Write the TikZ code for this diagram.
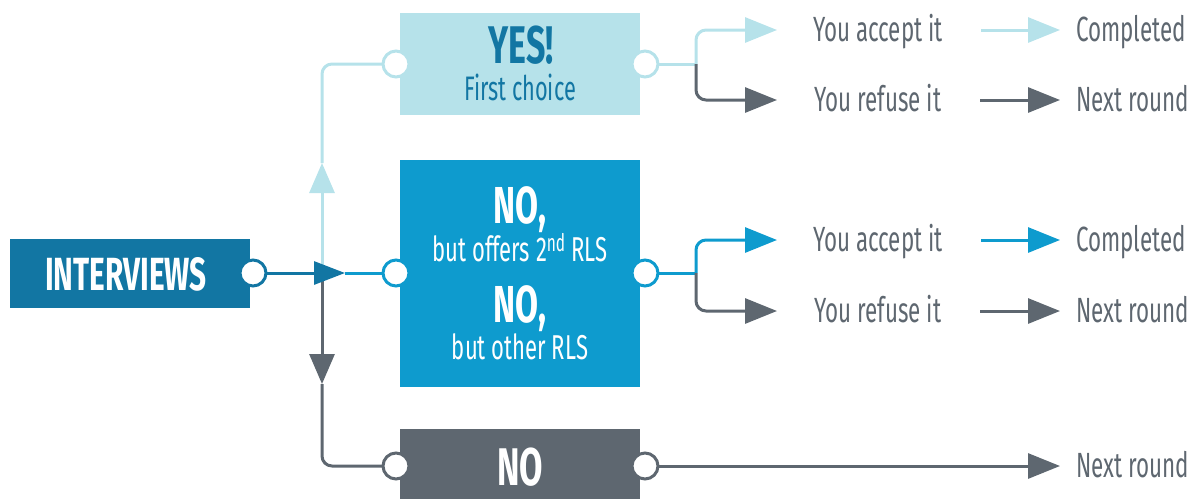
\documentclass[tikz,border=0pt]{standalone}
\usepackage{fontspec}
\setmainfont{Fira Sans}[FakeStretch=0.64]
\usetikzlibrary{arrows.meta}
\definecolor{cDark}{HTML}{1276A3}
\definecolor{cLight}{HTML}{B6E2EA}
\definecolor{cMid}{HTML}{0E9BCE}
\definecolor{cGrey}{HTML}{5E6770}
\newcommand\fBold[1]{\fontsize{#1}{#1}\selectfont\bfseries}
\newcommand\fReg[1]{\fontsize{#1}{#1}\selectfont}
\begin{document}
\begin{tikzpicture}[x=1pt,y=-1pt,
  box/.style={draw=none, inner sep=0, minimum width=240pt, anchor=north west},
  port/.style={circle, fill=white, draw=#1, line width=3pt, minimum size=26pt, inner sep=0},
  conn/.style={line width=3pt, draw=#1},
  tipv/.style={-{Triangle[length=30pt,width=25pt]}},
  tiph/.style={-{Triangle[length=32pt,width=25pt]}},
  tipi/.style={-{Triangle[length=31pt,width=23pt]}},
  lbl/.style={inner sep=0, text height=23pt, text depth=0pt, anchor=west, text=cGrey, font=\fReg{35}},
  boldtxt/.style={inner sep=0, anchor=base, text height=37pt, text depth=0pt},
  regtxt/.style={inner sep=0, anchor=base, text height=25pt, text depth=0pt},
  rc/.style={rounded corners=10pt}
]
\useasboundingbox (0,0) rectangle (1188,499);

% boxes
\node[box, fill=cDark, minimum height=69pt] (intv) at (10,239) {};
\node[box, fill=cLight, minimum height=102pt] (yes) at (400,13) {};
\node[box, fill=cMid, minimum height=227pt] (mid) at (400,160) {};
\node[box, fill=cGrey, minimum height=70pt] (no) at (400,429) {};

% box texts
\node[boldtxt, text=white, font=\fBold{46.5}] (tIntv) at (126,290) {INTERVIEWS};
\node[boldtxt, text=cDark, font=\fBold{53}] (tYes) at (521,63) {YES!};
\node[regtxt, text=cDark, font=\fReg{34}] (tFirst) at (520,100) {First choice};
\node[boldtxt, text=white, font=\fBold{52}] (tNo1) at (520,223) {NO,};
\node[regtxt, text=white, font=\fReg{34.5}] (tOff) at (520,261) {but offers 2\textsuperscript{nd} RLS};
\node[boldtxt, text=white, font=\fBold{52}] (tNo2) at (520,322) {NO,};
\node[regtxt, text=white, font=\fReg{34.5}] (tOth) at (520,359) {but other RLS};
\node[boldtxt, text=white, font=\fBold{53}] (tNo3) at (520,485) {NO};

% right labels
\node[lbl, minimum width=129pt] (acc1) at (813,30) {You accept it};
\node[lbl, minimum width=129pt] (ref1) at (813,100) {You refuse it};
\node[lbl, minimum width=108pt] (comp1) at (1076,30) {Completed};
\node[lbl, minimum width=108pt] (next1) at (1076,100) {Next round};
\node[lbl, minimum width=129pt] (acc2) at (813,240) {You accept it};
\node[lbl, minimum width=129pt] (ref2) at (813,311) {You refuse it};
\node[lbl, minimum width=108pt] (comp2) at (1076,240) {Completed};
\node[lbl, minimum width=108pt] (next2) at (1076,311) {Next round};
\node[lbl, minimum width=108pt] (next3) at (1076,466) {Next round};

% junctions
\coordinate (jL) at (322,273);
\coordinate (aR) at (345,273);
\coordinate (aU) at (322,163);
\coordinate (aD) at (322,384);
\coordinate (jY) at (696,64);
\coordinate (jM) at (696,273);

% left connectors
\draw[conn=cLight, tipv] (jL) -- (aU);
\draw[conn=cLight, rc] (aU) |- (396,64);
\draw[conn=cGrey, tipv] (jL) -- (aD);
\draw[conn=cGrey, rc] (aD) |- (396,466);
\draw[conn=cDark, tipi] (253,273) -- (aR);
\draw[conn=cMid] (aR) -- (396,273);

% right connectors: yes
\draw[conn=cLight] (645,64) -- (jY);
\draw[conn=cLight, rc, tiph, shorten >=36pt] (jY) |- (acc1.west);
\draw[conn=cGrey, rc, tiph, shorten >=36pt] (jY) |- (ref1.west);
\draw[conn=cLight, tiph, shorten <=38pt, shorten >=16pt] (acc1.east) -- (comp1.west);
\draw[conn=cGrey, tiph, shorten <=38pt, shorten >=16pt] (ref1.east) -- (next1.west);

% right connectors: mid
\draw[conn=cMid] (645,273) -- (jM);
\draw[conn=cMid, rc, tiph, shorten >=36pt] (jM) |- (acc2.west);
\draw[conn=cGrey, rc, tiph, shorten >=36pt] (jM) |- (ref2.west);
\draw[conn=cMid, tiph, shorten <=38pt, shorten >=16pt] (acc2.east) -- (comp2.west);
\draw[conn=cGrey, tiph, shorten <=38pt, shorten >=16pt] (ref2.east) -- (next2.west);

% right connector: no
\draw[conn=cGrey, tiph, shorten >=16pt] (645,466) -- (next3.west);

% ports (drawn last, over lines)
\node[port=cDark] (pI) at (253,273) {};
\node[port=cLight] (pYl) at (396,64) {};
\node[port=cLight] (pYr) at (645,64) {};
\node[port=cMid] (pMl) at (396,273) {};
\node[port=cMid] (pMr) at (645,273) {};
\node[port=cGrey] (pNl) at (396,466) {};
\node[port=cGrey] (pNr) at (645,466) {};
\end{tikzpicture}
\end{document}
